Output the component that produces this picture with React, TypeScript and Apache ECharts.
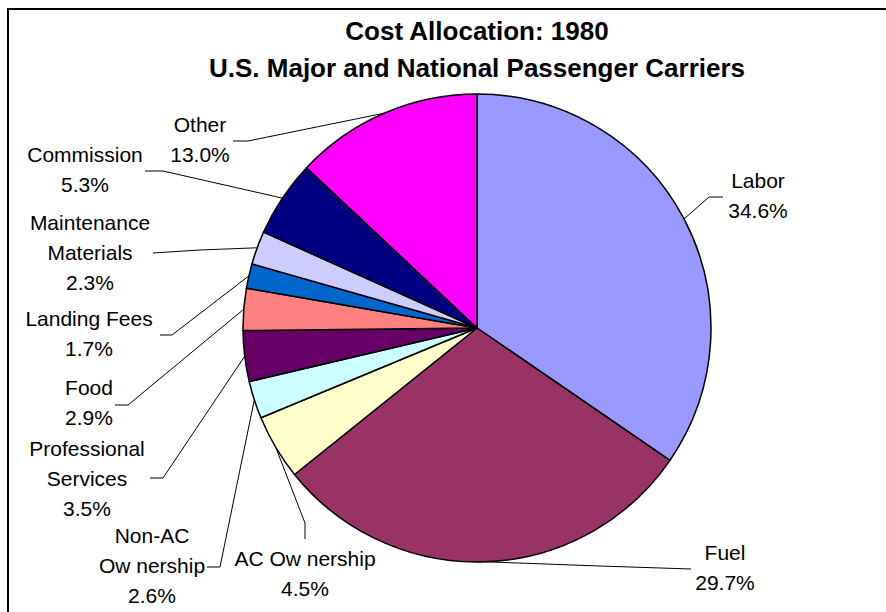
import React, { useEffect, useRef } from "react";
import * as echarts from "echarts";

const titleLines = ["Cost Allocation: 1980", "U.S. Major and National Passenger Carriers"];
const categories = [
  "Labor",
  "Fuel",
  "AC Ow nership",
  "Non-AC\nOw nership",
  "Professional\nServices",
  "Food",
  "Landing Fees",
  "Maintenance\nMaterials",
  "Commission",
  "Other",
];
const values = [34.6, 29.7, 4.5, 2.6, 3.5, 2.9, 1.7, 2.3, 5.3, 13.0];
const colors = [
  "#9999FF", "#993366", "#FFFFCC", "#CCFFFF", "#660066",
  "#FF8080", "#0066CC", "#CCCCFF", "#000080", "#FF00FF",
];
// label block centres and leader-line bends (layout only)
const labelCenters: number[][] = [
  [758, 195], [725, 567], [305, 573], [152, 565], [87, 478],
  [89, 402], [89, 333], [90, 252], [85, 169], [200, 139],
];
const leaderBends: number[][][] = [
  [[709, 197], [723, 197]],
  [[600, 566], [691, 569]],
  [[305, 523], [305, 539]],
  [[220, 567], [207, 567]],
  [[163, 478], [150, 478]],
  [[128, 405], [115, 405]],
  [[172, 335], [160, 335]],
  [[200, 250], [153, 253]],
  [[163, 171], [145, 171]],
  [[248, 141], [233, 141]],
];

const FONT = "'Liberation Sans', Arial, sans-serif";

export default function App() {
  const ref = useRef<HTMLDivElement>(null);
  useEffect(() => {
    if (!ref.current) return;
    const chart = echarts.init(ref.current, null, { renderer: "svg" });
    const cx = 477, cy = 328, r = 234;
    const total = values.reduce((a, b) => a + b, 0);
    const edgePoints: number[][] = [];
    let acc = 0;
    values.forEach((v) => {
      const mid = ((acc + v / 2) / total) * Math.PI * 2;
      edgePoints.push([cx + r * Math.sin(mid), cy - r * Math.cos(mid)]);
      acc += v;
    });
    chart.setOption({
      animation: false,
      backgroundColor: "#ffffff",
      graphic: [
        {
          type: "rect",
          shape: { x: 8, y: 9, width: 1000, height: 1000 },
          style: { fill: "none", stroke: "#000", lineWidth: 2 },
          silent: true,
        },
        {
          type: "text",
          x: 477,
          y: 31,
          style: {
            text: titleLines[0],
            fontFamily: FONT,
            fontSize: 26,
            fontWeight: "bold",
            fill: "#000",
            align: "center",
            verticalAlign: "middle",
          },
        },
        {
          type: "text",
          x: 477,
          y: 68,
          style: {
            text: titleLines[1],
            fontFamily: FONT,
            fontSize: 26,
            fontWeight: "bold",
            fill: "#000",
            align: "center",
            verticalAlign: "middle",
          },
        },
      ],
      series: [
        {
          type: "pie",
          center: [cx, cy],
          radius: r,
          startAngle: 90,
          clockwise: true,
          avoidLabelOverlap: false,
          data: categories.map((name, i) => ({
            name,
            value: values[i],
            itemStyle: { color: colors[i] },
          })),
          itemStyle: { borderColor: "#000", borderWidth: 1.5 },
          emphasis: { disabled: true },
          label: {
            show: true,
            position: "outside",
            formatter: (p: any) => p.name + "\n" + Number(p.value).toFixed(1) + "%",
            fontFamily: FONT,
            fontSize: 21,
            lineHeight: 30,
            color: "#000",
            align: "center",
            verticalAlign: "middle",
          },
          labelLine: {
            show: true,
            length: 20,
            length2: 20,
            lineStyle: { color: "#000", width: 1 },
          },
          labelLayout: (params: any) => {
            const i = params.dataIndex;
            return {
              x: labelCenters[i][0],
              y: labelCenters[i][1],
              align: "center",
              verticalAlign: "middle",
              labelLinePoints: [edgePoints[i], leaderBends[i][0], leaderBends[i][1]],
            };
          },
        },
      ],
    });
    return () => chart.dispose();
  }, []);
  return (
    <div
      ref={ref}
      style={{ position: "absolute", left: 0, top: 0, width: 886, height: 612, background: "#fff" }}
    />
  );
}
